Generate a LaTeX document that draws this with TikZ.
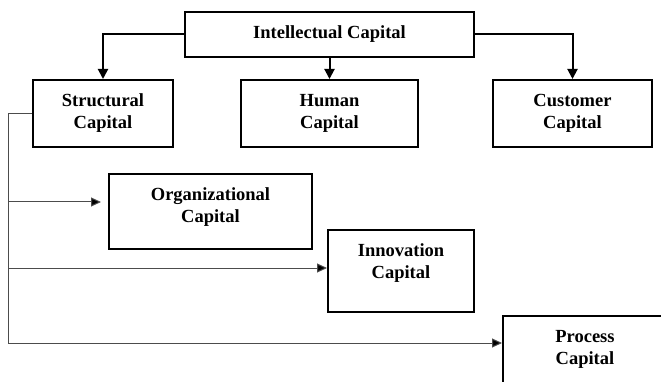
\documentclass[tikz,border=0pt]{standalone}
\usepackage{fontspec}
\setmainfont{Liberation Serif}
\usetikzlibrary{arrows.meta}
\tikzset{
  box/.style={draw=black, line width=2pt, fill=white, align=center, inner sep=0pt,
    font=\bfseries\fontsize{18.5}{22}\selectfont},
  boxlabel/.style={align=center, inner sep=0pt, font=\bfseries\fontsize{18.5}{22}\selectfont},
  thickarrow/.style={line width=2pt, -{Triangle[length=10pt,width=10pt]}},
  thinline/.style={line width=1pt, draw=black!70},
  thinarrow/.style={thinline, -{Triangle[length=10pt,width=9pt,fill=black]}},
}
\begin{document}
\begin{tikzpicture}[x=1pt,y=-1pt]
\useasboundingbox (0,0) rectangle (661,382);
\clip (0,0) rectangle (661,382);
% boxes
\node[box, minimum width=289pt, minimum height=45pt] (ic) at (329.5,34.3) {Intellectual Capital};
\node[box, minimum width=140pt, minimum height=67pt] (struct) at (103,113.5) {Structural\\Capital};
\node[box, minimum width=177pt, minimum height=67pt] (human) at (329.5,113.5) {Human\\Capital};
\node[box, minimum width=159pt, minimum height=67pt] (cust) at (572.5,113.5) {Customer\\Capital};
\node[box, minimum width=203pt, minimum height=75pt,
  label={[boxlabel, yshift=4pt]center:Organizational\\Capital}] (org) at (210.5,211.5) {};
\node[box, minimum width=146pt, minimum height=82pt,
  label={[boxlabel, yshift=7.5pt]center:Innovation\\Capital}] (innov) at (401,271) {};
\node[box, minimum width=200pt, minimum height=120pt,
  label={[boxlabel, xshift=-18pt, yshift=27pt]center:Process\\Capital}] (proc) at (603,376) {};
% thick arrows
\draw[thickarrow] (ic.west) -| (struct.north);
\draw[thickarrow] (ic.south) -- (human.north);
\draw[thickarrow] (ic.east) -| (cust.north);
% thin connectors
\coordinate (b0) at (8,113.5);
\coordinate (b1) at (8,202);
\coordinate (b2) at (8,268);
\coordinate (b3) at (8,343);
\draw[thinline] (struct.west) -- (b0) -- (b3);
\draw[thinarrow, shorten >=7pt] (b1) -- (org.west |- b1);
\draw[thinarrow] (b2) -- (innov.west |- b2);
\draw[thinarrow] (b3) -- (proc.west |- b3);
\end{tikzpicture}
\end{document}
